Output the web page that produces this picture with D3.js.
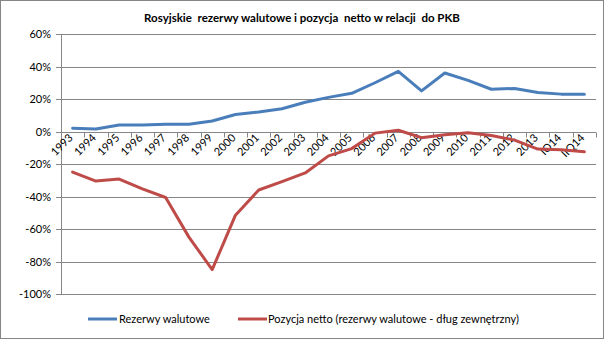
<!DOCTYPE html>
<html><head><meta charset="utf-8">
<script src="https://cdn.jsdelivr.net/npm/d3@7"></script>
<style>body{margin:0;background:#fff}svg{display:block}text{font-family:Lato,"Open Sans",sans-serif}</style>
</head><body>
<svg id="c" width="605" height="340"></svg>
<script>
const categories = ["1993","1994","1995","1996","1997","1998","1999","2000","2001","2002","2003","2004","2005","2006","2007","2008","2009","2010","2011","2012","2013","IQ14","IIQ14"];
const reserves = [2,1.5,4,4,4.5,4.5,6.5,10.5,12,14,18,21,23.5,30,37,25,36,31.5,26,26.5,24,23,23];
const netPosition = [-25,-30.5,-29.3,-35.3,-40.6,-65,-85,-51.5,-36,-30.8,-25.5,-15,-10.5,-1,0.8,-3.8,-2,-0.7,-2.5,-5.3,-10.8,-11.3,-12.5];
const yTicks = [60,40,20,0,-20,-40,-60,-80,-100];
const seriesNames = ["Rezerwy walutowe","Pozycja netto (rezerwy walutowe - dług zewnętrzny)"];
const colors = ["#4A7EBB","#BE4B48"];

const svg = d3.select("#c");
svg.append("rect").attr("x",0.5).attr("y",0.5).attr("width",603).attr("height",338).attr("fill","#fff").attr("stroke","#868686");

const L=61, R=596, T=34, B=294;
const x = d3.scaleBand().domain(categories).range([L,R]);
const y = d3.scaleLinear().domain([-100,60]).range([B,T]);

svg.append("text").attr("x",302).attr("y",22).attr("text-anchor","middle").attr("font-size",11.5).attr("font-weight","bold").attr("fill","#000")
  .style("white-space","pre")
  .text("Rosyjskie  rezerwy walutowe i pozycja  netto w relacji  do PKB");

// gridlines
svg.append("g").selectAll("line").data(yTicks).join("line")
  .attr("x1",L-5).attr("x2",R).attr("y1",d=>Math.round(y(d))+0.5).attr("y2",d=>Math.round(y(d))+0.5)
  .attr("stroke","#868686").attr("stroke-width",1);
// y labels
svg.append("g").selectAll("text").data(yTicks).join("text")
  .attr("x",L-10).attr("y",d=>y(d)+4).attr("text-anchor","end").attr("font-size",11).attr("fill","#000")
  .text(d=>d+"%");
// y axis line
svg.append("line").attr("x1",L+0.5).attr("x2",L+0.5).attr("y1",T).attr("y2",B).attr("stroke","#868686");

// x axis at 0
const y0 = Math.round(y(0))+0.5;
const bounds = categories.map(c=>x(c)).concat([R]);
svg.append("g").selectAll("line").data(bounds).join("line")
  .attr("x1",d=>Math.round(d)+0.5).attr("x2",d=>Math.round(d)+0.5).attr("y1",y0).attr("y2",y0+5)
  .attr("stroke","#868686");
svg.append("g").selectAll("text").data(categories).join("text")
  .attr("transform",d=>`translate(${x(d)+x.bandwidth()/2+1},${y0+6}) rotate(-45)`)
  .attr("text-anchor","end").attr("font-size",11).attr("fill","#000")
  .text(d=>d);

const line = d3.line().x((d,i)=>x(categories[i])+x.bandwidth()/2).y(d=>y(d));
[reserves, netPosition].forEach((s,k)=>{
  svg.append("path").datum(s).attr("d",line).attr("fill","none").attr("stroke",colors[k]).attr("stroke-width",3).attr("stroke-linejoin","round").attr("stroke-linecap","round");
});

// legend
const leg = [{x:88,tx:119},{x:238,tx:268}];
leg.forEach((p,k)=>{
  svg.append("line").attr("x1",p.x).attr("x2",p.x+29).attr("y1",319).attr("y2",319).attr("stroke",colors[k]).attr("stroke-width",3);
  svg.append("text").attr("x",p.tx).attr("y",323).attr("font-size",11).attr("fill","#000").text(seriesNames[k]);
});
</script>
</body></html>
